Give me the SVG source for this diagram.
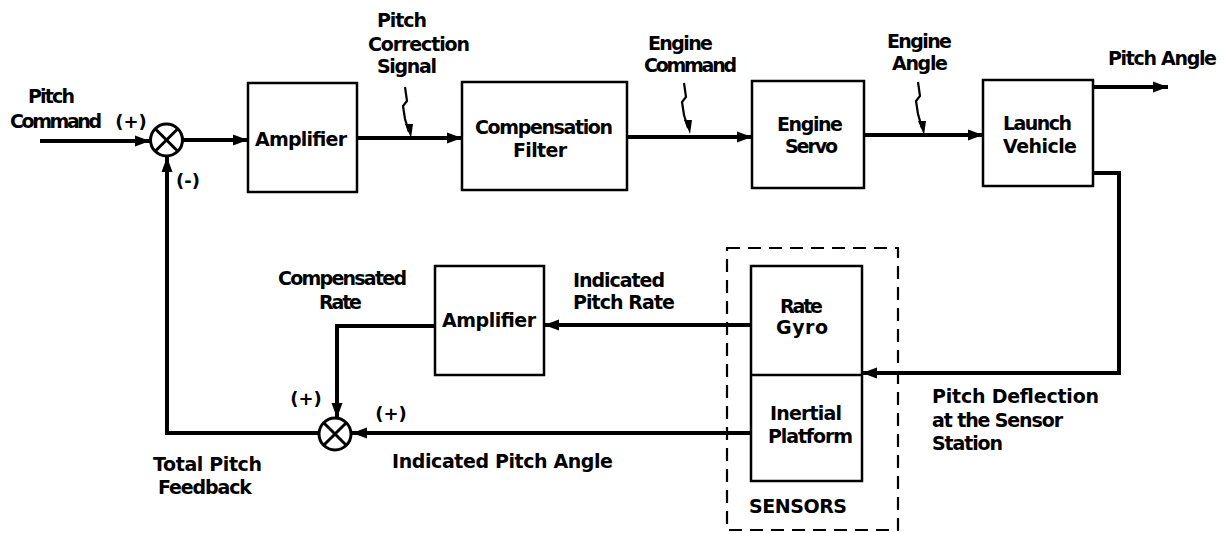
<svg xmlns="http://www.w3.org/2000/svg" width="1226" height="533" viewBox="0 0 1226 533">
<defs>
<style>
.box{fill:#fff;stroke:#000;stroke-width:2.5}
.sum{fill:#fff;stroke:#000;stroke-width:3}
.x{stroke:#000;stroke-width:3}
.wire{fill:none;stroke:#000;stroke-width:4}
.sq{fill:none;stroke:#000;stroke-width:2.2}
.dash{fill:none;stroke:#000;stroke-width:2.2;stroke-dasharray:13 8}
text{font-family:"DejaVu Sans","Liberation Sans",sans-serif;font-weight:bold;font-size:19px;fill:#000}
.sign{text-anchor:middle;font-size:18px}
</style>
<marker id="ah" markerUnits="userSpaceOnUse" markerWidth="16" markerHeight="12" refX="15" refY="6" orient="auto">
<path d="M0,0.5 L15,6 L0,11.5 z" fill="#000"/>
</marker>
</defs>

<g id="connectors">
<path class="wire" d="M40,141 L150,141" marker-end="url(#ah)"/>
<path class="wire" d="M183,140 L248,140" marker-end="url(#ah)"/>
<path class="wire" d="M357,138 L462,138" marker-end="url(#ah)"/>
<path class="wire" d="M627,137 L752,137" marker-end="url(#ah)"/>
<path class="wire" d="M864,135 L983,135" marker-end="url(#ah)"/>
<path class="wire" d="M1093,87 L1168,87" marker-end="url(#ah)"/>
<path class="wire" d="M1093,173 L1119,173 L1119,373 L862,373" marker-end="url(#ah)"/>
<path class="wire" d="M751,325 L544,325" marker-end="url(#ah)"/>
<path class="wire" d="M435,326 L337,326 L337,418" marker-end="url(#ah)"/>
<path class="wire" d="M751,433 L352,433" marker-end="url(#ah)"/>
<path class="wire" d="M319,433 L167,433 L167,157" marker-end="url(#ah)"/>
<path class="sq" d="M405,87 L407,101 L403,106 L405,119 L409,132"/>
<path d="M405,124 L413,124 L411,138 z" fill="#000"/>
<path class="sq" d="M684,83 L686,97 L682,102 L684,115 L688,128"/>
<path d="M684,120 L692,120 L690,134 z" fill="#000"/>
<path class="sq" d="M918,82 L920,96 L916,101 L918,114 L922,128"/>
<path d="M918,121 L926,121 L924,135 z" fill="#000"/>
</g>

<g id="sum1">
<circle class="sum" cx="166.5" cy="140" r="16"/>
<line class="x" x1="155.2" y1="128.7" x2="177.8" y2="151.3"/>
<line class="x" x1="177.8" y1="128.7" x2="155.2" y2="151.3"/>
</g>
<g id="sum2">
<circle class="sum" cx="335" cy="434" r="16"/>
<line class="x" x1="323.7" y1="422.7" x2="346.3" y2="445.3"/>
<line class="x" x1="346.3" y1="422.7" x2="323.7" y2="445.3"/>
</g>

<g id="amplifier1">
<rect class="box" x="248" y="83" width="109" height="109"/>
<text x="255" y="146" textLength="92">Amplifier</text>
</g>
<g id="compensation-filter">
<rect class="box" x="462" y="82" width="165" height="108"/>
<text x="475" y="134" textLength="138">Compensation</text>
<text x="513" y="157" textLength="54">Filter</text>
</g>
<g id="engine-servo">
<rect class="box" x="752" y="81" width="112" height="107"/>
<text x="777" y="131" textLength="66">Engine</text>
<text x="785" y="153" textLength="53">Servo</text>
</g>
<g id="launch-vehicle">
<rect class="box" x="983" y="80" width="110" height="106"/>
<text x="1003" y="130" textLength="69">Launch</text>
<text x="1003" y="153" textLength="74">Vehicle</text>
</g>
<g id="amplifier2">
<rect class="box" x="435" y="266" width="109" height="109"/>
<text x="442" y="327" textLength="94">Amplifier</text>
</g>
<g id="sensors">
<rect class="dash" x="727" y="248" width="171" height="282"/>
<rect class="box" x="751" y="266" width="111" height="215"/>
<line class="box" x1="751" y1="375" x2="862" y2="375"/>
<text x="780" y="313" textLength="43">Rate</text>
<text x="776" y="334" textLength="52">Gyro</text>
<text x="770" y="420" textLength="72">Inertial</text>
<text x="768" y="443" textLength="85">Platform</text>
<text x="749" y="513" textLength="98">SENSORS</text>
</g>

<g id="labels">
<text x="28" y="103" textLength="47">Pitch</text>
<text x="10" y="128" textLength="92">Command</text>
<text class="sign" x="131" y="128">(+)</text>
<text class="sign" x="188" y="187">(-)</text>
<text x="377" y="27" textLength="50">Pitch</text>
<text x="368" y="51" textLength="102">Correction</text>
<text x="377" y="73" textLength="60">Signal</text>
<text x="648" y="50" textLength="65">Engine</text>
<text x="644" y="72" textLength="93">Command</text>
<text x="887" y="48" textLength="65">Engine</text>
<text x="892" y="70" textLength="56">Angle</text>
<text x="1108" y="65" textLength="109">Pitch Angle</text>
<text x="278" y="285" textLength="129">Compensated</text>
<text x="319" y="309" textLength="43">Rate</text>
<text x="573" y="287" textLength="92">Indicated</text>
<text x="573" y="309" textLength="102">Pitch Rate</text>
<text class="sign" x="306" y="405">(+)</text>
<text class="sign" x="391" y="420">(+)</text>
<text x="392" y="468" textLength="221">Indicated Pitch Angle</text>
<text x="153" y="471" textLength="109">Total Pitch</text>
<text x="158" y="494" textLength="94">Feedback</text>
<text x="932" y="403" textLength="167">Pitch Deflection</text>
<text x="932" y="427" textLength="131">at the Sensor</text>
<text x="932" y="450" textLength="71">Station</text>
</g>
</svg>
